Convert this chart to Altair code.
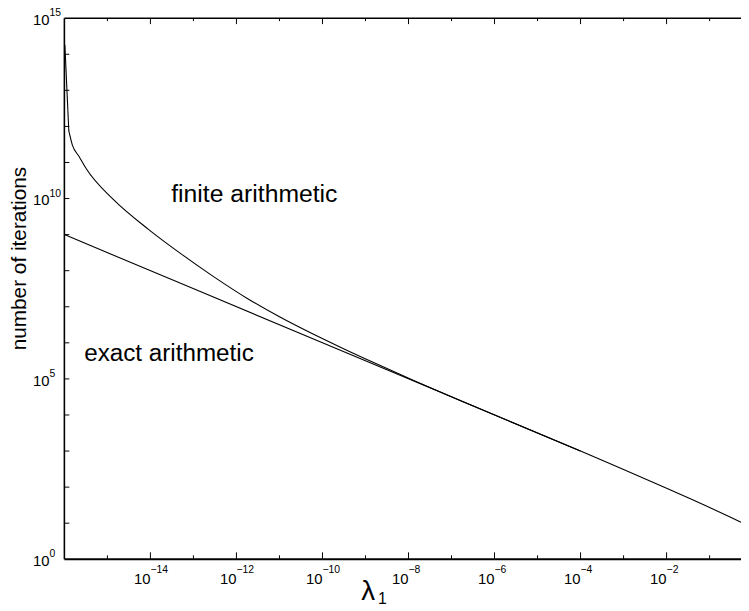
import altair as alt
import pandas as pd

# ---- data (log10 values) ----
exact_log_lambda = [-16.0, -10.0, -4.0, -3.0, -2.0, -1.5, -1.1, -0.8, -0.55, -0.27]
exact_log_iter = [9.0, 6.0, 3.0, 2.49, 1.97, 1.705, 1.49, 1.325, 1.185, 1.025]

# steep start of the finite-arithmetic curve
finite_head_log_lambda = [-15.989, -15.897]
finite_head_log_iter = [14.26, 11.873]
# smooth body of the finite-arithmetic curve
finite_log_lambda = [-15.897, -15.816, -15.655, -15.494, -14.851, -14.046, -13.287,
                     -12.506, -11.747, -10.989, -10.207, -9.609, -8.759, -7.839,
                     -6.69, -4.0]
finite_log_iter = [11.873, 11.489, 11.16, 10.831, 9.961, 9.147, 8.466,
                   7.815, 7.230, 6.714, 6.235, 5.892, 5.424, 4.936,
                   4.345, 3.0]

x_label_exps = [-14, -12, -10, -8, -6, -4, -2]
x_minor_exps = [-15, -13, -11, -9, -7, -5, -3, -1]
y_label_exps = [0, 5, 10, 15]
y_tick_exps = [1, 2, 3, 4, 5, 6, 7, 8, 9, 10, 11, 12, 13, 14]

W, H = 684, 547
FONT = "Liberation Sans"

xscale = alt.Scale(type="log", domain=[1e-16, 10 ** -0.27], nice=False)
yscale = alt.Scale(type="log", domain=[1, 1e15], nice=False)

exact_df = pd.DataFrame({"lam": [10 ** v for v in exact_log_lambda],
                         "n": [10 ** v for v in exact_log_iter]})
head_df = pd.DataFrame({"lam": [10 ** v for v in finite_head_log_lambda],
                        "n": [10 ** v for v in finite_head_log_iter]})
finite_df = pd.DataFrame({"lam": [10 ** v for v in finite_log_lambda],
                          "n": [10 ** v for v in finite_log_iter]})

xmaj = pd.DataFrame({"lam": [10.0 ** e for e in x_label_exps],
                     "exp": ["\u2212" + str(abs(e)) for e in x_label_exps]})
xmin = pd.DataFrame({"lam": [10.0 ** e for e in x_minor_exps]})
ylab = pd.DataFrame({"n": [10.0 ** e for e in y_label_exps],
                     "exp": [str(e) for e in y_label_exps]})
ytk = pd.DataFrame({"n": [10.0 ** e for e in y_tick_exps]})
one = pd.DataFrame({"a": [0]})

X = lambda: alt.X("lam:Q", scale=xscale, axis=None)
Y = lambda: alt.Y("n:Q", scale=yscale, axis=None)

exact_line = alt.Chart(exact_df).mark_line(
    color="black", strokeWidth=1.1, clip=True, interpolate="monotone").encode(x=X(), y=Y())
head_line = alt.Chart(head_df).mark_line(
    color="black", strokeWidth=1.1, clip=True).encode(x=X(), y=Y())
finite_line = alt.Chart(finite_df).mark_line(
    color="black", strokeWidth=1.1, clip=True, interpolate="monotone").encode(x=X(), y=Y())

# frame
left_line = alt.Chart(one).mark_rule(color="black", strokeWidth=1.6).encode(
    x=alt.value(0), y=alt.value(0), y2=alt.value(H))
bottom_line = alt.Chart(one).mark_rule(color="black", strokeWidth=2).encode(
    x=alt.value(0), x2=alt.value(W), y=alt.value(H))
top_line = alt.Chart(one).mark_rule(color="black", strokeWidth=1.5).encode(
    x=alt.value(0), x2=alt.value(W), y=alt.value(0))

# ticks
bt_maj = alt.Chart(xmaj).mark_rule(color="black", strokeWidth=1).encode(
    x=X(), y=alt.value(H), y2=alt.value(H - 7))
bt_min = alt.Chart(xmin).mark_rule(color="black", strokeWidth=1).encode(
    x=X(), y=alt.value(H), y2=alt.value(H - 4))
tp_maj = alt.Chart(xmaj).mark_rule(color="black", strokeWidth=1).encode(
    x=X(), y=alt.value(0), y2=alt.value(6))
tp_min = alt.Chart(xmin).mark_rule(color="black", strokeWidth=1).encode(
    x=X(), y=alt.value(0), y2=alt.value(3))
lt = alt.Chart(ytk).mark_rule(color="black", strokeWidth=1).encode(
    y=Y(), x=alt.value(0), x2=alt.value(5))

# tick labels
x_base = alt.Chart(xmaj).mark_text(align="right", baseline="middle", fontSize=15, font=FONT, color="black").encode(
    x=X(), y=alt.value(H + 20), text=alt.value("10"))
x_exp = alt.Chart(xmaj).mark_text(align="left", baseline="middle", fontSize=10.5, font=FONT, color="black").encode(
    x=X(), y=alt.value(H + 11), text="exp:N")
y_base = alt.Chart(ylab).mark_text(align="right", baseline="middle", fontSize=15, font=FONT, color="black", dy=2).encode(
    y=Y(), x=alt.value(-15), text=alt.value("10"))
y_exp = alt.Chart(ylab).mark_text(align="left", baseline="middle", fontSize=10.5, font=FONT, color="black", dy=-5).encode(
    y=Y(), x=alt.value(-15), text="exp:N")

# titles and annotations
ytitle = alt.Chart(one).mark_text(angle=270, align="center", baseline="middle", fontSize=21, font=FONT, color="black").encode(
    x=alt.value(-45), y=alt.value(243), text=alt.value("number of iterations"))
xtitle = alt.Chart(one).mark_text(align="center", baseline="alphabetic", fontSize=28, font=FONT, color="black").encode(
    x=alt.value(307), y=alt.value(588), text=alt.value("\u03bb"))
xsub = alt.Chart(one).mark_text(align="left", baseline="alphabetic", fontSize=16, font=FONT, color="black").encode(
    x=alt.value(317), y=alt.value(592), text=alt.value("1"))
ann1 = alt.Chart(one).mark_text(align="left", baseline="alphabetic", fontSize=25, font=FONT, color="black").encode(
    x=alt.value(108), y=alt.value(186), text=alt.value("finite arithmetic"))
ann2 = alt.Chart(one).mark_text(align="left", baseline="alphabetic", fontSize=24.5, font=FONT, color="black").encode(
    x=alt.value(20), y=alt.value(347), text=alt.value("exact arithmetic"))

chart = alt.layer(
    exact_line, head_line, finite_line, left_line, bottom_line, top_line,
    bt_maj, bt_min, tp_maj, tp_min, lt,
    x_base, x_exp, y_base, y_exp, ytitle, xtitle, xsub, ann1, ann2,
).properties(
    width=W, height=H,
    autosize=alt.AutoSizeParams(type="none"),
    padding={"left": 57, "top": 7, "right": 0, "bottom": 49},
).configure_view(stroke=None)

chart.save("out.html", embed_options={"renderer": "svg", "actions": False})
